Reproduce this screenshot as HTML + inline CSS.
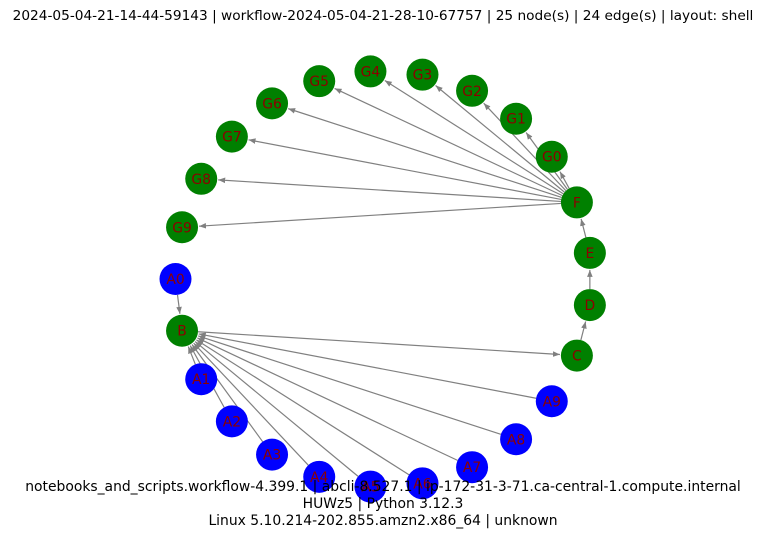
<!DOCTYPE html>
<html><head><meta charset="utf-8"><style>
html,body{margin:0;padding:0;background:#fff;}
svg{display:block;font-family:"DejaVu Sans","Liberation Sans",sans-serif;}
</style></head><body>
<svg id="chart" width="766" height="539" viewBox="0 0 766 539">
<defs><marker id="arr" viewBox="0 0 10 10" refX="10" refY="5" markerWidth="7" markerHeight="7" markerUnits="userSpaceOnUse" orient="auto"><path d="M0,1 L10,5 L0,9 z" fill="#808080"/></marker></defs>
<text x="383" y="20" text-anchor="middle" font-size="13.7" fill="#000">2024-05-04-21-14-44-59143 | workflow-2024-05-04-21-28-10-67757 | 25 node(s) | 24 edge(s) | layout: shell</text>
<g id="edges"></g>
<g id="nodes"></g>
<text x="383" y="491" text-anchor="middle" font-size="13.9" fill="#000">notebooks_and_scripts.workflow-4.399.1 | abcli-8.527.1 | ip-172-31-3-71.ca-central-1.compute.internal</text>
<text x="383" y="508" text-anchor="middle" font-size="13.9" fill="#000">HUWz5 | Python 3.12.3</text>
<text x="383" y="525" text-anchor="middle" font-size="13.9" fill="#000">Linux 5.10.214-202.855.amzn2.x86_64 | unknown</text>
</svg>
<script>
const nodeNames = ["E","F","G0","G1","G2","G3","G4","G5","G6","G7","G8","G9","A0","B","A1","A2","A3","A4","A5","A6","A7","A8","A9","C","D"];
const nodeColors = ["green","green","green","green","green","green","green","green","green","green","green","green","blue","green","blue","blue","blue","blue","blue","blue","blue","blue","blue","green","green"];
const edgeSources = ["F","F","F","F","F","F","F","F","F","F","E","D","C","B","A0","A1","A2","A3","A4","A5","A6","A7","A8","A9"];
const edgeTargets = ["G0","G1","G2","G3","G4","G5","G6","G7","G8","G9","F","E","D","C","B","B","B","B","B","B","B","B","B","B"];
const NS="http://www.w3.org/2000/svg";
const cx=383.5, cy=279, R=208, nr=16;
const pos={};
nodeNames.forEach((n,i)=>{const a=(7.2+14.4*i)*Math.PI/180;pos[n]=[cx+R*Math.cos(a),cy-R*Math.sin(a)];});
const eg=document.getElementById('edges'), ng=document.getElementById('nodes');
edgeSources.forEach((s,i)=>{
  const t=edgeTargets[i];const [x1,y1]=pos[s],[x2,y2]=pos[t];
  const dx=x2-x1,dy=y2-y1,d=Math.hypot(dx,dy),ux=dx/d,uy=dy/d;
  const l=document.createElementNS(NS,'line');
  l.setAttribute('x1',x1+ux*nr);l.setAttribute('y1',y1+uy*nr);
  l.setAttribute('x2',x2-ux*(nr+1));l.setAttribute('y2',y2-uy*(nr+1));
  l.setAttribute('stroke','#808080');l.setAttribute('stroke-width','1.2');
  l.setAttribute('marker-end','url(#arr)');
  
  
  eg.appendChild(l);
});
nodeNames.forEach((n,i)=>{
  const [x,y]=pos[n];
  const g=document.createElementNS(NS,'g');
  
  
  const c=document.createElementNS(NS,'circle');
  c.setAttribute('cx',x);c.setAttribute('cy',y);c.setAttribute('r',nr);c.setAttribute('fill',nodeColors[i]);
  const tx=document.createElementNS(NS,'text');
  tx.setAttribute('x',x);tx.setAttribute('y',y+5);tx.setAttribute('text-anchor','middle');
  tx.setAttribute('font-size','13.9');tx.setAttribute('fill','#8b0000');tx.textContent=n;
  g.appendChild(c);g.appendChild(tx);ng.appendChild(g);
});
</script>
</body></html>
